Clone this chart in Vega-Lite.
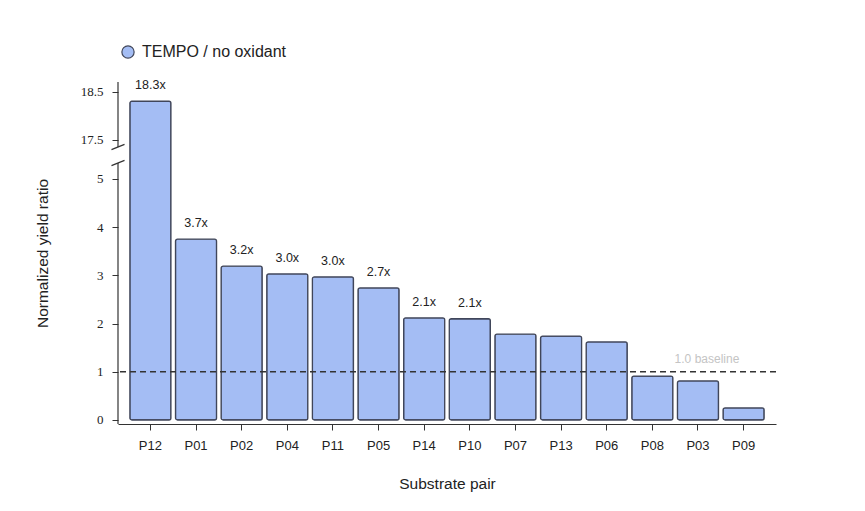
{
  "$schema": "https://vega.github.io/schema/vega-lite/v6.json",
  "autosize": {"type": "none"},
  "padding": {"left": 118, "top": 82, "right": 89, "bottom": 87},
  "width": 658,
  "height": 342,
  "background": "white",
  "config": {
    "view": {"stroke": null},
    "font": "Liberation Sans"
  },
  "datasets": {
    "bars": [
      {"pair": "P12", "ratio": 18.3, "label": "18.3x", "series": "TEMPO / no oxidant"},
      {"pair": "P01", "ratio": 3.75, "label": "3.7x", "series": "TEMPO / no oxidant"},
      {"pair": "P02", "ratio": 3.19, "label": "3.2x", "series": "TEMPO / no oxidant"},
      {"pair": "P04", "ratio": 3.03, "label": "3.0x", "series": "TEMPO / no oxidant"},
      {"pair": "P11", "ratio": 2.97, "label": "3.0x", "series": "TEMPO / no oxidant"},
      {"pair": "P05", "ratio": 2.74, "label": "2.7x", "series": "TEMPO / no oxidant"},
      {"pair": "P14", "ratio": 2.12, "label": "2.1x", "series": "TEMPO / no oxidant"},
      {"pair": "P10", "ratio": 2.1, "label": "2.1x", "series": "TEMPO / no oxidant"},
      {"pair": "P07", "ratio": 1.78, "label": "", "series": "TEMPO / no oxidant"},
      {"pair": "P13", "ratio": 1.74, "label": "", "series": "TEMPO / no oxidant"},
      {"pair": "P06", "ratio": 1.62, "label": "", "series": "TEMPO / no oxidant"},
      {"pair": "P08", "ratio": 0.91, "label": "", "series": "TEMPO / no oxidant"},
      {"pair": "P03", "ratio": 0.81, "label": "", "series": "TEMPO / no oxidant"},
      {"pair": "P09", "ratio": 0.25, "label": "", "series": "TEMPO / no oxidant"}
    ],
    "spine": [
      {"lo": -0.083, "hi": 5.33},
      {"lo": 17.35, "hi": 18.7}
    ],
    "breaks": [
      {"at": 5.33},
      {"at": 17.35}
    ],
    "baseline": [
      {"pair": "P03", "ratio": 1.0, "note": "1.0 baseline"}
    ]
  },
  "encoding": {
    "x": {
      "field": "pair",
      "type": "nominal",
      "sort": null,
      "scale": {
        "domain": ["P12", "P01", "P02", "P04", "P11", "P05", "P14", "P10", "P07", "P13", "P06", "P08", "P03", "P09"],
        "paddingInner": 0.1,
        "paddingOuter": 0.26
      },
      "axis": {
        "title": "Substrate pair",
        "titleFont": "Liberation Sans",
        "titleFontSize": 15.5,
        "titleFontWeight": "normal",
        "titleColor": "#222222",
        "titlePadding": 24,
        "labelAngle": 0,
        "labelFont": "Liberation Sans",
        "labelFontSize": 13,
        "labelColor": "#222222",
        "labelPadding": 9,
        "tickSize": 6,
        "tickColor": "#333333",
        "domainColor": "#333333",
        "domainWidth": 1.2
      }
    }
  },
  "layer": [
    {
      "data": {"name": "bars"},
      "mark": {"type": "bar", "fill": "#a4bdf4", "stroke": "#40465a", "strokeWidth": 1.3, "cornerRadius": 2},
      "encoding": {
        "y": {
          "field": "ratio",
          "type": "quantitative",
          "scale": {
            "domain": [-0.083, 5.33, 17.35, 18.7],
            "range": [342, 81, 65, 0],
            "zero": false,
            "nice": false,
            "clamp": false
          },
          "axis": {
            "title": "Normalized yield ratio",
            "titleFont": "Liberation Sans",
            "titleFontSize": 15.5,
            "titleFontWeight": "normal",
            "titleColor": "#222222",
            "titlePadding": 30,
            "values": [0, 1, 2, 3, 4, 5, 17.5, 18.5],
            "labelExpr": "datum.value > 10 ? format(datum.value, '.1f') : format(datum.value, 'd')",
            "labelFont": "Liberation Serif",
            "labelFontSize": 13,
            "labelColor": "#222222",
            "labelPadding": 9,
            "tickSize": 6,
            "tickColor": "#333333",
            "domain": false,
            "grid": false
          }
        },
        "fill": {
          "field": "series",
          "type": "nominal",
          "scale": {"range": ["#a4bdf4"]},
          "legend": {
            "title": null,
            "orient": "none",
            "legendX": 2,
            "legendY": -38,
            "symbolType": "circle",
            "symbolSize": 150,
            "symbolStrokeColor": "#40465a",
            "symbolStrokeWidth": 1.2,
            "labelFont": "Liberation Sans",
            "labelFontSize": 16,
            "labelColor": "#222222",
            "labelOffset": 6
          }
        }
      }
    },
    {
      "data": {"name": "bars"},
      "mark": {"type": "text", "baseline": "bottom", "dy": -9, "fontSize": 12.5, "color": "#222222"},
      "encoding": {
        "y": {"field": "ratio", "type": "quantitative"},
        "text": {"field": "label"}
      }
    },
    {
      "data": {"name": "baseline"},
      "mark": {"type": "rule", "stroke": "#333333", "strokeWidth": 1.5, "strokeDash": [6, 4]},
      "encoding": {
        "x": null,
        "y": {"field": "ratio", "type": "quantitative"}
      }
    },
    {
      "data": {"name": "baseline"},
      "mark": {"type": "text", "dx": 9, "dy": -13, "fontSize": 12, "color": "#c4c4c4"},
      "encoding": {
        "y": {"field": "ratio", "type": "quantitative"},
        "text": {"field": "note"}
      }
    },
    {
      "data": {"name": "spine"},
      "mark": {"type": "rule", "stroke": "#333333", "strokeWidth": 1.2},
      "encoding": {
        "x": {"value": 0},
        "y": {"field": "lo", "type": "quantitative"},
        "y2": {"field": "hi"}
      }
    },
    {
      "data": {"name": "breaks"},
      "mark": {"type": "point", "shape": "M-1,0.4L1,-0.4", "size": 170, "stroke": "#333333", "strokeWidth": 1.2, "filled": false, "opacity": 1},
      "encoding": {
        "x": {"value": 0},
        "y": {"field": "at", "type": "quantitative"}
      }
    }
  ]
}
